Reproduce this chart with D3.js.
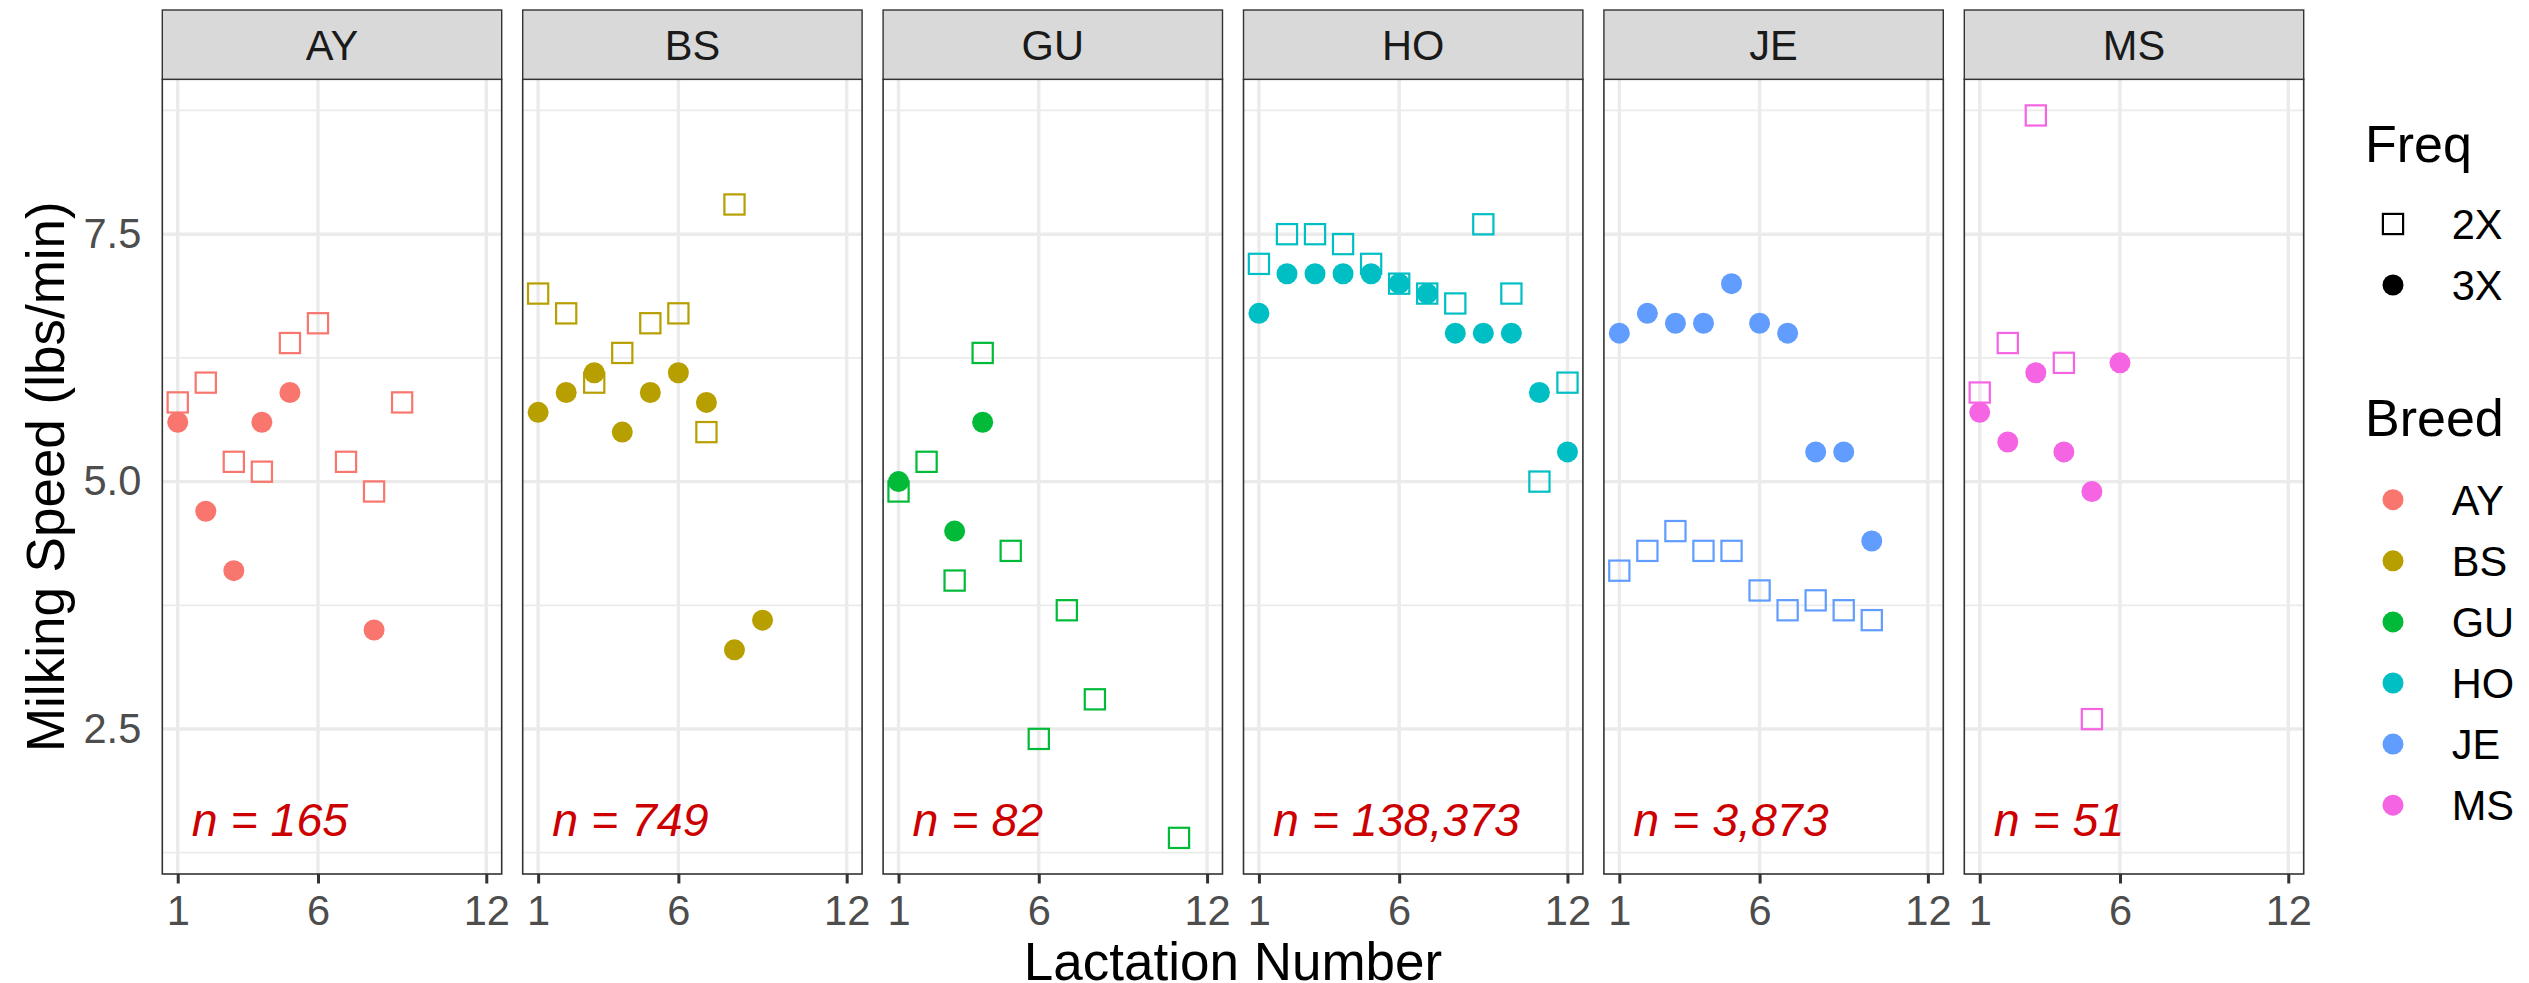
<!DOCTYPE html>
<html>
<head>
<meta charset="utf-8">
<script src="https://cdn.jsdelivr.net/npm/d3@7"></script>
<style>
  html, body { margin: 0; padding: 0; background: #ffffff; }
  svg { display: block; }
  text { font-family: "Liberation Sans", Arial, Helvetica, sans-serif; }
</style>
</head>
<body>
<script>
// ---------------- DATA ----------------
const breeds = ["AY", "BS", "GU", "HO", "JE", "MS"];
const freqs = ["2X", "3X"];
const nCows = [165, 749, 82, 138373, 3873, 51];
const xTicks = [1, 6, 12];
const yTicks = [2.5, 5.0, 7.5];
const yMinor = [1.25, 3.75, 6.25, 8.75];

const lactAY2X = [1, 2, 3, 4, 5, 6, 7, 8, 9];
const speedAY2X = [5.8, 6.0, 5.2, 5.1, 6.4, 6.6, 5.2, 4.9, 5.8];
const lactAY3X = [1, 2, 3, 4, 5, 8];
const speedAY3X = [5.6, 4.7, 4.1, 5.6, 5.9, 3.5];

const lactBS2X = [1, 2, 3, 4, 5, 6, 7, 8];
const speedBS2X = [6.9, 6.7, 6.0, 6.3, 6.6, 6.7, 5.5, 7.8];
const lactBS3X = [1, 2, 3, 4, 5, 6, 7, 8, 9];
const speedBS3X = [5.7, 5.9, 6.1, 5.5, 5.9, 6.1, 5.8, 3.3, 3.6];

const lactGU2X = [1, 2, 3, 4, 5, 6, 7, 8, 11];
const speedGU2X = [4.9, 5.2, 4.0, 6.3, 4.3, 2.4, 3.7, 2.8, 1.4];
const lactGU3X = [1, 3, 4];
const speedGU3X = [5.0, 4.5, 5.6];

const lactHO2X = [1, 2, 3, 4, 5, 6, 7, 8, 9, 10, 11, 12];
const speedHO2X = [7.2, 7.5, 7.5, 7.4, 7.2, 7.0, 6.9, 6.8, 7.6, 6.9, 5.0, 6.0];
const lactHO3X = [1, 2, 3, 4, 5, 6, 7, 8, 9, 10, 11, 12];
const speedHO3X = [6.7, 7.1, 7.1, 7.1, 7.1, 7.0, 6.9, 6.5, 6.5, 6.5, 5.9, 5.3];

const lactJE2X = [1, 2, 3, 4, 5, 6, 7, 8, 9, 10];
const speedJE2X = [4.1, 4.3, 4.5, 4.3, 4.3, 3.9, 3.7, 3.8, 3.7, 3.6];
const lactJE3X = [1, 2, 3, 4, 5, 6, 7, 8, 9, 10];
const speedJE3X = [6.5, 6.7, 6.6, 6.6, 7.0, 6.6, 6.5, 5.3, 5.3, 4.4];

const lactMS2X = [1, 2, 3, 4, 5];
const speedMS2X = [5.9, 6.4, 8.7, 6.2, 2.6];
const lactMS3X = [1, 2, 3, 4, 5, 6];
const speedMS3X = [5.7, 5.4, 6.1, 5.3, 4.9, 6.2];

// build a long table from the arrays
const seriesTable = [
  ["AY", "2X", lactAY2X, speedAY2X], ["AY", "3X", lactAY3X, speedAY3X],
  ["BS", "2X", lactBS2X, speedBS2X], ["BS", "3X", lactBS3X, speedBS3X],
  ["GU", "2X", lactGU2X, speedGU2X], ["GU", "3X", lactGU3X, speedGU3X],
  ["HO", "2X", lactHO2X, speedHO2X], ["HO", "3X", lactHO3X, speedHO3X],
  ["JE", "2X", lactJE2X, speedJE2X], ["JE", "3X", lactJE3X, speedJE3X],
  ["MS", "2X", lactMS2X, speedMS2X], ["MS", "3X", lactMS3X, speedMS3X]
];
const points = [];
seriesTable.forEach(([b, f, xs, ys]) => xs.forEach((x, i) => points.push({ breed: b, freq: f, lact: x, speed: ys[i] })));

// ---------------- LAYOUT ----------------
const W = 2529, H = 983;
const panelLeft0 = 162.3, panelW = 339.4, panelGap = 21;
const panelTop = 79.3, panelBottom = 874;
const stripTop = 10;
const small = 41.6, big = 53, nFont = 46.5;

const svg = d3.select("body").append("svg").attr("width", W).attr("height", H);
svg.append("rect").attr("width", W).attr("height", H).attr("fill", "#ffffff");

const color = d3.scaleOrdinal().domain(breeds)
  .range(["#F8766D", "#B79F00", "#00BA38", "#00BFC4", "#619CFF", "#F564E3"]);

const panelX = d3.scaleBand().domain(breeds)
  .range([panelLeft0, panelLeft0 + breeds.length * panelW + (breeds.length - 1) * panelGap])
  .paddingInner(panelGap / (panelW + panelGap)).paddingOuter(0);

const x = d3.scaleLinear().domain([0.45, 12.55]).range([0, panelW]);
const y = d3.scaleLinear().domain([1.035, 9.065]).range([panelBottom, panelTop]);

const sq = 20.2, sqStroke = 2.2, rPt = 10.5;
const fmt = d3.format(",");

breeds.forEach((b, bi) => {
  const g = svg.append("g").attr("transform", `translate(${panelX(b)},0)`);

  // grid
  g.selectAll(".ymin").data(yMinor).join("line")
    .attr("x1", 0).attr("x2", panelW).attr("y1", d => y(d)).attr("y2", d => y(d))
    .attr("stroke", "#EBEBEB").attr("stroke-width", 1.7);
  g.selectAll(".ymaj").data(yTicks).join("line")
    .attr("x1", 0).attr("x2", panelW).attr("y1", d => y(d)).attr("y2", d => y(d))
    .attr("stroke", "#EBEBEB").attr("stroke-width", 3.4);
  g.selectAll(".xmaj").data(xTicks).join("line")
    .attr("x1", d => x(d)).attr("x2", d => x(d)).attr("y1", panelTop).attr("y2", panelBottom)
    .attr("stroke", "#EBEBEB").attr("stroke-width", 3.4);

  const pts = points.filter(p => p.breed === b);
  // 2X squares first
  g.selectAll(".sq").data(pts.filter(p => p.freq === "2X")).join("rect")
    .attr("x", d => x(d.lact) - sq / 2).attr("y", d => y(d.speed) - sq / 2)
    .attr("width", sq).attr("height", sq)
    .attr("fill", "none").attr("stroke", color(b)).attr("stroke-width", sqStroke);
  g.selectAll(".ci").data(pts.filter(p => p.freq === "3X")).join("circle")
    .attr("cx", d => x(d.lact)).attr("cy", d => y(d.speed)).attr("r", rPt)
    .attr("fill", color(b));

  // n label
  g.append("text")
    .attr("x", x(1.5)).attr("y", y(1.5) + nFont * 0.18)
    .attr("font-size", nFont).attr("font-style", "italic").attr("fill", "#CC0000")
    .text("n = " + fmt(nCows[bi]));

  // panel border
  g.append("rect").attr("x", 0).attr("y", panelTop).attr("width", panelW).attr("height", panelBottom - panelTop)
    .attr("fill", "none").attr("stroke", "#333333").attr("stroke-width", 1.6);

  // strip
  g.append("rect").attr("x", 0).attr("y", stripTop).attr("width", panelW).attr("height", panelTop - stripTop)
    .attr("fill", "#D9D9D9").attr("stroke", "#333333").attr("stroke-width", 1.4);
  g.append("text").attr("x", panelW / 2).attr("y", (stripTop + panelTop) / 2 + small * 0.358)
    .attr("text-anchor", "middle").attr("font-size", small).attr("fill", "#1A1A1A").text(b);

  // x axis
  const xa = g.append("g").attr("transform", `translate(0,${panelBottom})`)
    .call(d3.axisBottom(x).tickValues(xTicks).tickSize(9.5).tickPadding(11.5).tickFormat(d3.format("d")));
  xa.select(".domain").remove();
  xa.selectAll(".tick line").attr("stroke", "#333333").attr("stroke-width", 3);
  xa.selectAll(".tick text").attr("font-size", small).attr("fill", "#4D4D4D")
    .attr("font-family", "'Liberation Sans', Arial, sans-serif");
});

// y axis (leftmost panel only, no ticks)
const ya = svg.append("g").attr("transform", `translate(${panelLeft0},0)`)
  .call(d3.axisLeft(y).tickValues(yTicks).tickSize(0).tickPadding(21).tickFormat(d3.format(".1f")));
ya.select(".domain").remove();
ya.selectAll(".tick text").attr("font-size", small).attr("fill", "#4D4D4D")
  .attr("font-family", "'Liberation Sans', Arial, sans-serif");

// axis titles
const panelsRight = panelX(breeds[breeds.length - 1]) + panelW;
svg.append("text").attr("x", (panelLeft0 + panelsRight) / 2).attr("y", 980)
  .attr("text-anchor", "middle").attr("font-size", big).attr("fill", "#000").text("Lactation Number");
svg.append("text").attr("transform", `translate(64,${(panelTop + panelBottom) / 2}) rotate(-90)`)
  .attr("text-anchor", "middle").attr("font-size", big).attr("fill", "#000").text("Milking Speed (lbs/min)");

// ---------------- LEGEND ----------------
const lg = svg.append("g");
const keyX = 2393, labX = 2451.7, titleX = 2365;
lg.append("text").attr("x", titleX).attr("y", 162).attr("font-size", 52).text("Freq");
const freqY = [224, 285];
freqs.forEach((f, i) => {
  if (f === "2X") {
    lg.append("rect").attr("x", keyX - sq / 2).attr("y", freqY[i] - sq / 2).attr("width", sq).attr("height", sq)
      .attr("fill", "none").attr("stroke", "#000").attr("stroke-width", sqStroke);
  } else {
    lg.append("circle").attr("cx", keyX).attr("cy", freqY[i]).attr("r", rPt).attr("fill", "#000");
  }
  lg.append("text").attr("x", labX).attr("y", freqY[i] + small * 0.358).attr("font-size", small).attr("fill", "#000").text(f);
});
lg.append("text").attr("x", titleX).attr("y", 436).attr("font-size", 52).text("Breed");
breeds.forEach((b, i) => {
  const cy = 499.7 + i * 61.1;
  lg.append("circle").attr("cx", keyX).attr("cy", cy).attr("r", rPt).attr("fill", color(b));
  lg.append("text").attr("x", labX).attr("y", cy + small * 0.358).attr("font-size", small).attr("fill", "#000").text(b);
});
</script>
</body>
</html>
